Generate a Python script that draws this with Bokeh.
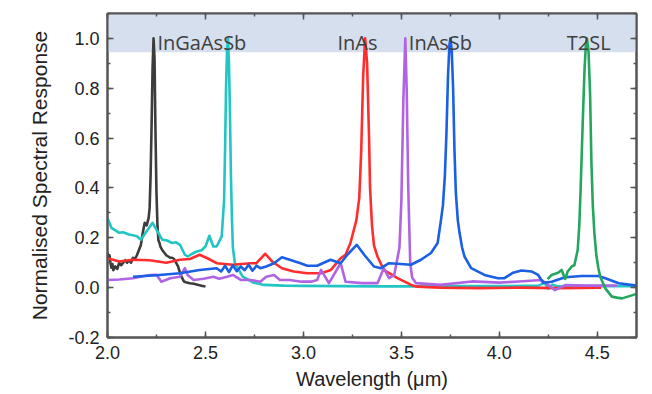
from bokeh.plotting import figure
from bokeh.models import (LinearAxis, SingleIntervalTicker, NumeralTickFormatter, BoxAnnotation,
                          Range1d, CustomJSTickFormatter)
from bokeh.core.properties import value
from bokeh.embed import file_html
from bokeh.resources import INLINE

# ---------------- data ----------------
black_x = [2.00, 2.005, 2.01, 2.015, 2.02, 2.025, 2.03, 2.04, 2.05, 2.06, 2.07, 2.08, 2.09, 2.10,
           2.11, 2.12, 2.13, 2.14, 2.15, 2.16, 2.17, 2.18, 2.19, 2.20, 2.21, 2.215, 2.22, 2.225,
           2.23, 2.235, 2.24, 2.245, 2.25, 2.255, 2.26, 2.265, 2.27, 2.28, 2.29, 2.30, 2.31,
           2.32, 2.33, 2.34, 2.35, 2.36, 2.37, 2.38, 2.39, 2.40, 2.42, 2.44, 2.46, 2.48, 2.50]
black_y = [0.14, 0.12, 0.13, 0.10, 0.08, 0.095, 0.07, 0.085, 0.075, 0.10, 0.09, 0.10, 0.11, 0.10,
           0.11, 0.10, 0.12, 0.115, 0.13, 0.15, 0.17, 0.22, 0.26, 0.25, 0.28, 0.32, 0.45, 0.65,
           0.88, 1.00, 0.92, 0.62, 0.38, 0.25, 0.19, 0.18, 0.165, 0.15, 0.14, 0.13, 0.125,
           0.12, 0.12, 0.115, 0.10, 0.085, 0.06, 0.04, 0.025, 0.022, 0.018, 0.016, 0.012, 0.008,
           0.005]

cyan_x = [2.00, 2.02, 2.04, 2.06, 2.08, 2.11, 2.13, 2.15, 2.17, 2.20, 2.23, 2.26, 2.28, 2.30, 2.33,
          2.35, 2.37, 2.395, 2.41, 2.43, 2.455, 2.48, 2.50, 2.52, 2.54, 2.557, 2.583, 2.595, 2.60,
          2.605, 2.61, 2.615, 2.62, 2.625, 2.63, 2.635, 2.64, 2.65, 2.66, 2.69, 2.745, 2.80, 2.9,
          3.0, 3.2, 3.4, 3.6, 3.8, 4.0, 4.2, 4.23, 4.25, 4.27, 4.30, 4.4, 4.5, 4.6, 4.7]
cyan_y = [0.28, 0.24, 0.23, 0.22, 0.222, 0.213, 0.21, 0.206, 0.192, 0.226, 0.26, 0.219, 0.192,
          0.19, 0.179, 0.182, 0.172, 0.132, 0.125, 0.135, 0.145, 0.15, 0.165, 0.208, 0.165, 0.165,
          0.206, 0.35, 0.55, 0.80, 0.95, 1.00, 0.90, 0.70, 0.45, 0.28, 0.16, 0.10, 0.085, 0.044,
          0.02, 0.011, 0.008, 0.007, 0.006, 0.005, 0.005, 0.006, 0.006, 0.008, 0.02, -0.004,
          0.012, 0.005, 0.006, 0.006, 0.006, 0.006]

red_x = [2.00, 2.06, 2.13, 2.215, 2.30, 2.37, 2.42, 2.47, 2.51, 2.557, 2.64, 2.73, 2.76, 2.805,
         2.84, 2.89, 2.95, 3.02, 3.09, 3.14, 3.19, 3.215, 3.24, 3.27, 3.285, 3.295, 3.305, 3.315,
         3.325, 3.335, 3.34, 3.35, 3.36, 3.378, 3.41, 3.48, 3.55, 3.58, 3.7, 3.9, 4.1, 4.3, 4.52]
red_y = [0.118, 0.105, 0.112, 0.11, 0.10, 0.112, 0.115, 0.132, 0.118, 0.098, 0.092, 0.098, 0.098,
         0.136, 0.105, 0.078, 0.065, 0.058, 0.058, 0.071, 0.118, 0.132, 0.179, 0.27, 0.36, 0.55,
         0.85, 1.00, 0.90, 0.60, 0.40, 0.25, 0.17, 0.125, 0.071, 0.038, 0.011, 0.004, 0.0,
         -0.002, 0.0, -0.002, 0.0]

purple_x = [2.00, 2.06, 2.13, 2.215, 2.25, 2.275, 2.32, 2.37, 2.395, 2.41, 2.44, 2.49, 2.54, 2.57,
            2.61, 2.64, 2.68, 2.73, 2.78, 2.81, 2.85, 2.88, 2.93, 2.99, 3.04, 3.07, 3.09, 3.13,
            3.19, 3.215, 3.30, 3.378, 3.41, 3.437, 3.463, 3.49, 3.50, 3.51, 3.52, 3.527, 3.535,
            3.545, 3.555, 3.575, 3.7, 3.86, 4.0, 4.1, 4.215, 4.25, 4.284, 4.336, 4.45, 4.6]
purple_y = [0.031, 0.033, 0.038, 0.051, 0.052, 0.024, 0.038, 0.044, 0.078, 0.05, 0.031, 0.036,
            0.044, 0.036, 0.044, 0.051, 0.031, 0.031, 0.024, 0.044, 0.051, 0.031, 0.031, 0.024,
            0.024, 0.031, 0.071, 0.018, 0.098, 0.024, 0.018, 0.018, 0.078, 0.038, 0.05, 0.16,
            0.35, 0.75, 1.00, 0.80, 0.40, 0.10, 0.04, 0.018, 0.011, 0.025, 0.02, 0.025, 0.031,
            0.011, -0.01, 0.01, 0.008, 0.008]

blue_x = [2.13, 2.25, 2.37, 2.47, 2.557, 2.58, 2.60, 2.62, 2.64, 2.66, 2.68, 2.70, 2.72, 2.74,
          2.76, 2.78, 2.81, 2.85, 2.89, 2.93, 2.985, 3.02, 3.07, 3.138, 3.19, 3.224, 3.272, 3.31,
          3.36, 3.395, 3.437, 3.48, 3.549, 3.60, 3.651, 3.685, 3.70, 3.712, 3.722, 3.73, 3.738,
          3.745, 3.75, 3.757, 3.764, 3.771, 3.778, 3.788, 3.797, 3.81, 3.822, 3.856, 3.924,
          3.992, 4.026, 4.07, 4.113, 4.164, 4.198, 4.224, 4.267, 4.336, 4.421, 4.506, 4.541,
          4.609, 4.70]
blue_y = [0.044, 0.05, 0.058, 0.071, 0.078, 0.065, 0.088, 0.062, 0.09, 0.066, 0.085, 0.07, 0.092,
          0.068, 0.088, 0.078, 0.085, 0.098, 0.122, 0.112, 0.098, 0.088, 0.088, 0.112, 0.098,
          0.132, 0.172, 0.132, 0.085, 0.078, 0.098, 0.096, 0.092, 0.112, 0.139, 0.179, 0.26,
          0.33, 0.45, 0.62, 0.85, 0.97, 1.00, 0.95, 0.80, 0.55, 0.38, 0.27, 0.219, 0.16, 0.125,
          0.078, 0.051, 0.038, 0.038, 0.06, 0.069, 0.065, 0.051, 0.02, 0.024, 0.042, 0.047,
          0.047, 0.038, 0.018, 0.008]

green_x = [4.246, 4.267, 4.30, 4.318, 4.336, 4.349, 4.369, 4.383, 4.40, 4.408, 4.415, 4.425,
           4.435, 4.442, 4.447, 4.455, 4.463, 4.47, 4.477, 4.485, 4.495, 4.505, 4.515, 4.541,
           4.574, 4.60, 4.626, 4.66, 4.70]
green_y = [0.034, 0.051, 0.06, 0.071, 0.035, 0.065, 0.085, 0.09, 0.152, 0.25, 0.40, 0.65, 0.88,
           0.98, 1.00, 0.95, 0.78, 0.50, 0.33, 0.22, 0.13, 0.08, 0.044, -0.003, -0.036, -0.04,
           -0.043, -0.035, -0.025]

series_x = [black_x, cyan_x, red_x, purple_x, blue_x, green_x]
series_y = [black_y, cyan_y, red_y, purple_y, blue_y, green_y]
series_colors = ["#3c3c3c", "#22c4c4", "#ff2d2d", "#b064e4", "#1a5fe4", "#24a65e"]

material_labels = ["InGaAsSb", "InAs", "InAsSb", "T2SL"]
label_x = [2.255, 3.174, 3.538, 4.344]
label_y = [0.985, 0.985, 0.985, 0.985]

x_ticks_interval = 0.5
y_ticks_interval = 0.2

# ---------------- figure ----------------
p = figure(width=640, height=392, output_backend="svg", toolbar_location=None,
           x_range=Range1d(2.0, 4.7), y_range=Range1d(-0.2, 1.1),
           min_border_left=107, min_border_right=4, min_border_top=13, min_border_bottom=40)
p.background_fill_color = "white"
p.border_fill_color = "white"
p.xgrid.visible = False
p.ygrid.visible = False
p.outline_line_color = "#555555"
p.outline_line_width = 2

band = BoxAnnotation(bottom=0.945, top=1.1, fill_color="#d5dfee", fill_alpha=1.0,
                     line_alpha=0, level="underlay")
p.add_layout(band)

for xs, ys, c in zip(series_x, series_y, series_colors):
    p.line(xs, ys, line_color=c, line_width=2.6, line_join="round")

p.text(x=label_x, y=label_y, text=material_labels, text_font=value("Open Sans"),
       text_font_size="20px", text_color="#404040", text_baseline="alphabetic",
       text_align="left")


def style_axis(ax, show_labels):
    ax.axis_line_color = "#555555"
    ax.axis_line_width = 2
    ax.major_tick_line_color = "#555555"
    ax.minor_tick_line_color = "#555555"
    ax.major_tick_line_width = 1.5
    ax.minor_tick_line_width = 1.5
    ax.major_tick_in = 6
    ax.major_tick_out = 0
    ax.minor_tick_in = 3
    ax.minor_tick_out = 0
    if show_labels:
        ax.major_label_text_font = "Liberation Sans"
        ax.major_label_text_font_size = "18px"
        ax.major_label_text_color = "#222222"
        ax.axis_label_text_font = "Liberation Sans"
        ax.axis_label_text_font_style = "normal"
        ax.axis_label_text_color = "#222222"
    else:
        ax.formatter = CustomJSTickFormatter(code="return ''")
        ax.major_label_text_font_size = "1px"
        ax.major_label_standoff = 0
        ax.axis_label = None


xt = SingleIntervalTicker(interval=x_ticks_interval, num_minor_ticks=2)
yt = SingleIntervalTicker(interval=y_ticks_interval, num_minor_ticks=2)

p.xaxis.ticker = xt
p.yaxis.ticker = yt
p.xaxis.formatter = NumeralTickFormatter(format="0.0")
p.yaxis.formatter = NumeralTickFormatter(format="0.0")
p.xaxis.axis_label = "Wavelength (μm)"
p.yaxis.axis_label = "Normalised Spectral Response"
style_axis(p.xaxis[0], True)
style_axis(p.yaxis[0], True)
p.xaxis.axis_label_text_font_size = "20px"
p.yaxis.axis_label_text_font_size = "21px"
p.xaxis.major_label_standoff = 8
p.yaxis.major_label_standoff = 8
p.xaxis.axis_label_standoff = 6
p.yaxis.axis_label_standoff = 14

top_ax = LinearAxis(ticker=SingleIntervalTicker(interval=x_ticks_interval, num_minor_ticks=2))
right_ax = LinearAxis(ticker=SingleIntervalTicker(interval=y_ticks_interval, num_minor_ticks=2))
style_axis(top_ax, False)
style_axis(right_ax, False)
p.add_layout(top_ax, "above")
p.add_layout(right_ax, "right")

open("out.html", "w").write(file_html(p, INLINE))
